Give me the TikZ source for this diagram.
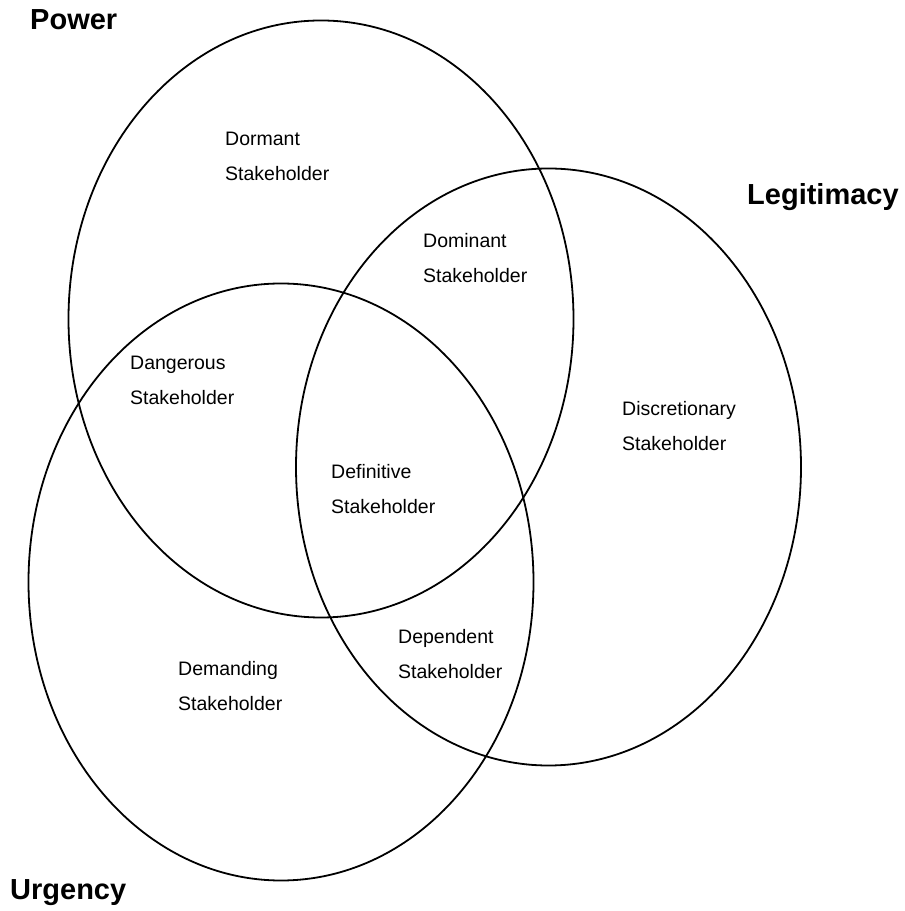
\documentclass[tikz,border=0pt]{standalone}
\usepackage{fontspec}
\setmainfont{Liberation Sans}
\usetikzlibrary{shapes.geometric}
\begin{document}
\begin{tikzpicture}[x=1pt,y=1pt,
  setellipse/.style={ellipse, draw=black, line width=1.8pt, inner sep=0pt,
    minimum width=505pt, minimum height=597pt},
  lbl/.style={anchor=base west, align=left, inner sep=0pt,
    font=\fontsize{19.5}{35}\selectfont},
  ttl/.style={anchor=base west, inner sep=0pt,
    font=\fontsize{29}{35}\selectfont\bfseries}]
\useasboundingbox (0,0) rectangle (905,911);
\node[setellipse] (power) at (321,592) {};
\node[setellipse] (legit) at (548.5,444) {};
\node[setellipse] (urgency) at (281,329) {};
\node[ttl] (tpower) at (30,881) {Power};
\node[ttl] (tlegit) at (747,706) {Legitimacy};
\node[ttl] (turg) at (10,12) {Urgency};
\node[lbl] (dormant) at (225,730) {Dormant\\Stakeholder};
\node[lbl] (dominant) at (423,628) {Dominant\\Stakeholder};
\node[lbl] (dangerous) at (130,506) {Dangerous\\Stakeholder};
\node[lbl] (definitive) at (331,397) {Definitive\\Stakeholder};
\node[lbl] (discretionary) at (622,460) {Discretionary\\Stakeholder};
\node[lbl] (dependent) at (398,232) {Dependent\\Stakeholder};
\node[lbl] (demanding) at (178,200) {Demanding\\Stakeholder};
\end{tikzpicture}
\end{document}
